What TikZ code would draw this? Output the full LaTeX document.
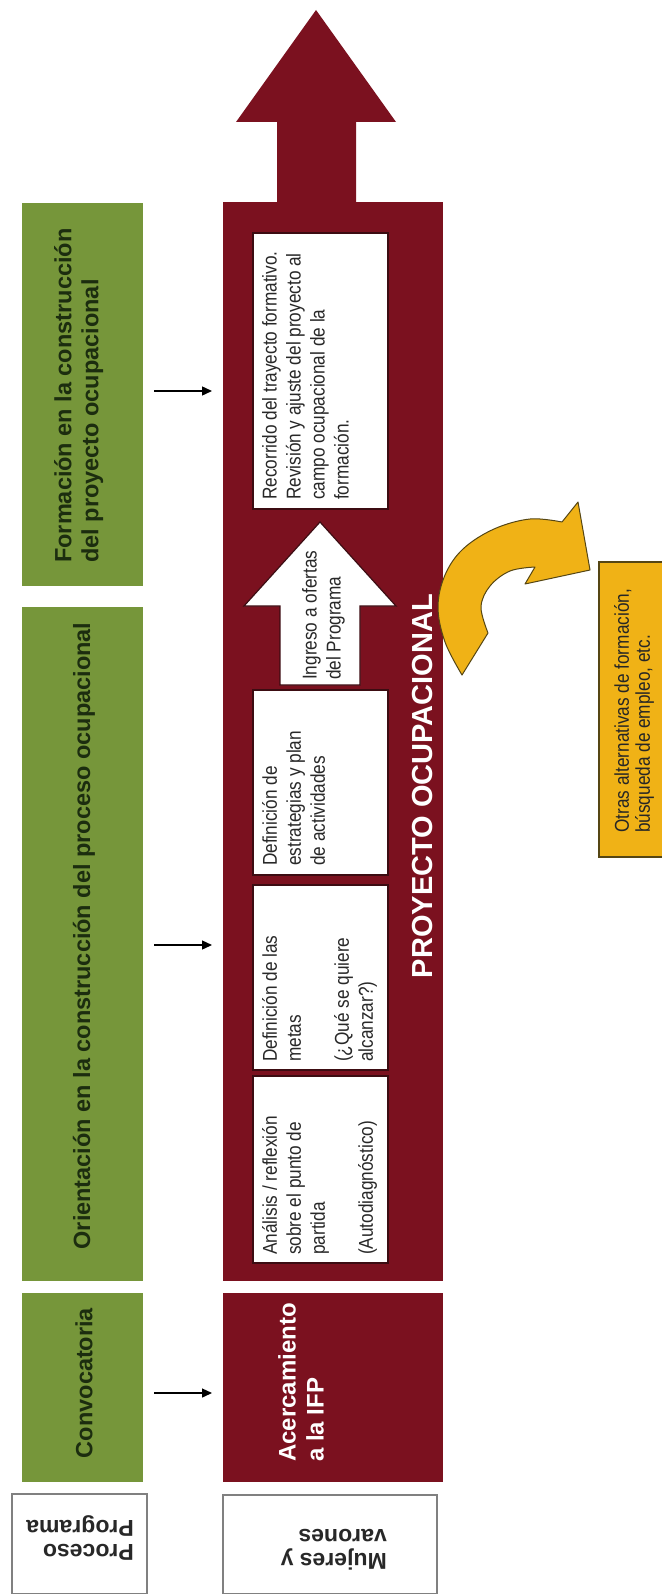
\documentclass[tikz,border=0pt]{standalone}
\usepackage{fontspec}
\setmainfont{Liberation Sans}
\newfontfamily\narrowfont[FakeStretch=0.86]{Liberation Sans}
\usetikzlibrary{arrows.meta}
\definecolor{dred}{RGB}{123,17,31}
\definecolor{lgreen}{RGB}{118,150,58}
\definecolor{gtext}{RGB}{28,45,15}
\definecolor{yel}{RGB}{240,178,22}
\definecolor{yline}{RGB}{85,70,20}
\definecolor{bline}{RGB}{60,12,18}
\definecolor{txtgray}{RGB}{40,40,40}
\tikzset{
  rbox/.style 2 args={minimum width=#1, minimum height=#2, anchor=north west, inner sep=0pt, outer sep=0pt},
  wbox/.style={fill=white, draw=bline, line width=1.2pt},
  gbox/.style={fill=lgreen},
  redbox/.style={fill=dred},
  lbox/.style={fill=white, draw=black!50, line width=1.8pt},
  ntxt/.style={rotate=90, anchor=north west, inner sep=0pt, align=left, text=txtgray,
    font=\narrowfont\fontsize{20}{24}\selectfont},
  gtxt/.style={rotate=90, inner sep=0pt, align=left, text=gtext,
    font=\bfseries\fontsize{23.5}{27}\selectfont},
  htxt/.style={rotate=180, anchor=north west, inner sep=0pt, align=left, text=txtgray,
    font=\bfseries\fontsize{23}{24}\selectfont},
  larr/.style={line width=1.4pt, -{Triangle[length=10pt,width=9pt]}, shorten <=11pt, shorten >=11pt},
}
\begin{document}
\begin{tikzpicture}[x=1pt,y=-1pt]
\useasboundingbox (0,0) rectangle (661,1594);

% left column
\node[rbox={121pt}{383pt}, gbox] (g1) at (22,203) {};
\node[rbox={121pt}{674pt}, gbox] (g2) at (22,607) {};
\node[rbox={121pt}{189pt}, gbox] (g3) at (22,1293) {};
\node[rbox={135pt}{100pt}, lbox] (proc) at (12,1494) {};

\node[gtxt, anchor=north west] (tg1) at (54,563) {Formación en la construcción\\del proyecto ocupacional};
\node[gtxt, anchor=center] (tg2) at (84,936) {Orientación en la construcción del proceso ocupacional};
\node[gtxt, anchor=center] (tg3) at (84,1383) {Convocatoria};
\node[htxt] (tproc) at (134,1561) {Proceso\\Programa};

% main column with big arrow
\node[rbox={220pt}{1079pt}, redbox] (col) at (223,202) {};
\fill[dred] (277,204) -- (277,122) -- (236,122) -- (316,10) -- (396,122) -- (356,122) -- (356,204) -- cycle;
\node[rbox={220pt}{189pt}, redbox] (acerc) at (223,1293) {};
\node[rbox={214pt}{99pt}, lbox] (muj) at (223,1495) {};

\node[rotate=90, anchor=north west, inner sep=0pt, align=left, text=white,
  font=\bfseries\fontsize{24}{28}\selectfont] (tacerc) at (278,1462) {Acercamiento\\a la IFP};
\node[htxt] (tmuj) at (387,1570) {Mujeres y\\varones};

% white boxes
\node[rbox={135pt}{276pt}, wbox] (wb1) at (253,233) {};
\node[rbox={135pt}{185pt}, wbox] (wb2) at (253,690) {};
\node[rbox={135pt}{185pt}, wbox] (wb3) at (253,885) {};
\node[rbox={135pt}{187pt}, wbox] (wb4) at (253,1076) {};

\node[ntxt] (t1) at (262,500) {Recorrido del trayecto formativo.\\Revisión y ajuste del proyecto al\\campo ocupacional de la\\formación.};
\node[ntxt] (t2) at (262,866) {Definición de\\estrategias y plan\\de actividades};
\node[ntxt] (t3) at (262,1062) {Definición de las\\metas\\[24pt](¿Qué se quiere\\alcanzar?)};
\node[ntxt] (t4) at (262,1255) {Análisis / reflexión\\sobre el punto de\\partida\\[24pt](Autodiagnóstico)};

% Ingreso arrow
\draw[fill=white, draw=bline, line width=1.2pt] (280,685) -- (280,606) -- (244,606) -- (320,522) -- (396,606) -- (360,606) -- (360,685) -- cycle;
\node[ntxt] (t5) at (302,680) {Ingreso a ofertas\\del Programa};

\node[rotate=90, anchor=center, inner sep=0pt, text=white,
  font=\bfseries\fontsize{29}{32}\selectfont] (tproy) at (423,786) {PROYECTO OCUPACIONAL};

% yellow box and curved arrow
\node[rbox={70pt}{295pt}, fill=yel, draw=yline, line width=1.2pt] (ybox) at (599,562) {};
\node[ntxt, text=black!85, font=\narrowfont\fontsize{20}{21}\selectfont] (t6) at (614,833) {Otras alternativas de formación,\\búsqueda de empleo, etc.};

\draw[fill=yel, draw=yline, line width=1pt, line join=round]
  (562,522) -- (578,502) -- (590,570) -- (525,584) -- (535,567)
  -- plot[smooth, tension=0.6] coordinates {(535,567) (510,571) (490,586) (481,607) (488,633)}
  -- (462,675)
  -- plot[smooth, tension=0.6] coordinates {(462,675) (445,642) (438,607) (445,575) (463,549) (494,529) (530,519) (562,522)}
  -- cycle;

% connectors
\coordinate (a1) at (154,391);
\coordinate (a2) at (154,945);
\coordinate (a3) at (154,1393);
\draw[larr] (g1.east |- a1) -- (col.west |- a1);
\draw[larr] (g2.east |- a2) -- (col.west |- a2);
\draw[larr] (g3.east |- a3) -- (acerc.west |- a3);
\end{tikzpicture}
\end{document}
